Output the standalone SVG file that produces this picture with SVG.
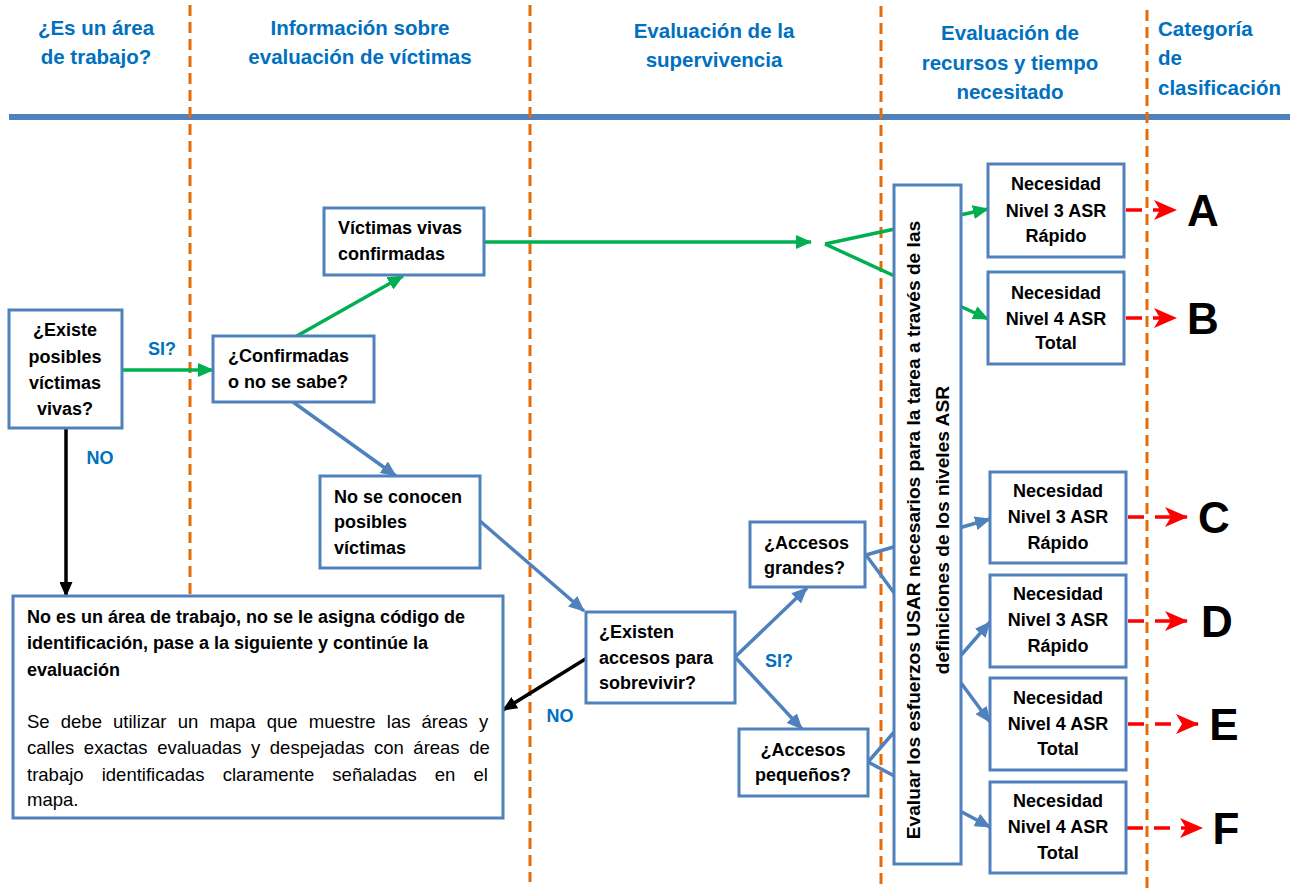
<svg xmlns="http://www.w3.org/2000/svg" width="1299" height="892" viewBox="0 0 1299 892">
<style>
.hdr{font-family:"Liberation Sans",Arial,sans-serif;font-weight:bold;font-size:20.5px;fill:#0070C0}
.lbl{font-family:"Liberation Sans",Arial,sans-serif;font-weight:bold;font-size:18px;fill:#0070C0}
.t{font-family:"Liberation Sans",Arial,sans-serif;font-weight:bold;font-size:18px;fill:#000}
.tv{font-family:"Liberation Sans",Arial,sans-serif;font-weight:bold;font-size:19.2px;fill:#000}
.tr{font-family:"Liberation Sans",Arial,sans-serif;font-size:18.5px;fill:#000}
.big{font-family:"Liberation Sans",Arial,sans-serif;font-weight:bold;font-size:44px;fill:#000}
.box{fill:#fff;stroke:#4F81BD;stroke-width:3}
.sep{stroke:#E46C0A;stroke-width:3;stroke-dasharray:11 6;fill:none}
.g{stroke:#00B050;stroke-width:3.5;fill:none}
.b{stroke:#4F81BD;stroke-width:3.5;fill:none}
.k{stroke:#000;stroke-width:3.5;fill:none}
.r{stroke:#FF0000;stroke-width:3.5;stroke-dasharray:16 11;fill:none}
</style>
<defs>
<marker id="mg" markerUnits="userSpaceOnUse" markerWidth="16" markerHeight="14" refX="15" refY="7" orient="auto"><path d="M0,0 L16,7 L0,14 z" fill="#00B050"/></marker>
<marker id="mb" markerUnits="userSpaceOnUse" markerWidth="16" markerHeight="14" refX="15" refY="7" orient="auto"><path d="M0,0 L16,7 L0,14 z" fill="#4F81BD"/></marker>
<marker id="mk" markerUnits="userSpaceOnUse" markerWidth="15" markerHeight="13" refX="14" refY="6.5" orient="auto"><path d="M0,0 L15,6.5 L0,13 z" fill="#000"/></marker>
<marker id="mr" markerUnits="userSpaceOnUse" markerWidth="23" markerHeight="20" refX="22" refY="10" orient="auto"><path d="M0,0 L23,10 L0,20 L6,10 z" fill="#FF0000"/></marker>
</defs>
<rect width="1299" height="892" fill="#fff"/>

<g id="headers">
<text class="hdr" text-anchor="middle" x="96" y="35">¿Es un área</text>
<text class="hdr" text-anchor="middle" x="96" y="64">de trabajo?</text>
<text class="hdr" text-anchor="middle" x="360" y="35">Información sobre</text>
<text class="hdr" text-anchor="middle" x="360" y="64">evaluación de víctimas</text>
<text class="hdr" text-anchor="middle" x="714" y="38">Evaluación de la</text>
<text class="hdr" text-anchor="middle" x="714" y="67">supervivencia</text>
<text class="hdr" text-anchor="middle" x="1010" y="40">Evaluación de</text>
<text class="hdr" text-anchor="middle" x="1010" y="70">recursos y tiempo</text>
<text class="hdr" text-anchor="middle" x="1010" y="99">necesitado</text>
<text class="hdr" x="1158" y="36">Categoría</text>
<text class="hdr" x="1158" y="65">de</text>
<text class="hdr" x="1158" y="95">clasificación</text>
<line x1="9" y1="117" x2="1290" y2="117" stroke="#4F81BD" stroke-width="6"/>
</g>

<g id="separators">
<line class="sep" x1="190" y1="5" x2="190" y2="595"/>
<line class="sep" x1="530" y1="5" x2="530" y2="882"/>
<line class="sep" x1="881" y1="6" x2="881" y2="890"/>
<line class="sep" x1="1147" y1="10" x2="1147" y2="890"/>
</g>

<g id="connectors">
<line class="g" x1="122" y1="370" x2="213" y2="370" marker-end="url(#mg)"/>
<line class="g" x1="295" y1="337" x2="403" y2="276" marker-end="url(#mg)"/>
<line class="g" x1="484" y1="242" x2="811" y2="242" marker-end="url(#mg)"/>
<line class="g" x1="825" y1="244" x2="988" y2="209" marker-end="url(#mg)"/>
<line class="g" x1="825" y1="244" x2="988" y2="319" marker-end="url(#mg)"/>
<line class="b" x1="293" y1="402" x2="396" y2="476" marker-end="url(#mb)"/>
<line class="b" x1="480" y1="521" x2="584" y2="611" marker-end="url(#mb)"/>
<line class="b" x1="735" y1="657" x2="807" y2="588" marker-end="url(#mb)"/>
<line class="b" x1="735" y1="657" x2="802" y2="729" marker-end="url(#mb)"/>
<line class="b" x1="866" y1="555" x2="990" y2="519" marker-end="url(#mb)"/>
<line class="b" x1="866" y1="555" x2="990" y2="722" marker-end="url(#mb)"/>
<line class="b" x1="868" y1="762" x2="990" y2="622" marker-end="url(#mb)"/>
<line class="b" x1="868" y1="762" x2="990" y2="827" marker-end="url(#mb)"/>
<line class="k" x1="66" y1="428" x2="66" y2="596" marker-end="url(#mk)"/>
<line class="k" x1="587" y1="658" x2="503" y2="710" marker-end="url(#mk)"/>
<line class="r" x1="1126" y1="210" x2="1176" y2="210" marker-end="url(#mr)"/>
<line class="r" x1="1126" y1="318" x2="1176" y2="318" marker-end="url(#mr)"/>
<line class="r" x1="1128" y1="517" x2="1187" y2="517" marker-end="url(#mr)"/>
<line class="r" x1="1128" y1="621" x2="1187" y2="621" marker-end="url(#mr)"/>
<line class="r" x1="1128" y1="724" x2="1198" y2="724" marker-end="url(#mr)"/>
<line class="r" x1="1127" y1="828" x2="1202" y2="828" marker-end="url(#mr)"/>
<text class="lbl" text-anchor="middle" x="162" y="355">SI?</text>
<text class="lbl" text-anchor="middle" x="100" y="464">NO</text>
<text class="lbl" text-anchor="middle" x="560" y="722">NO</text>
<text class="lbl" text-anchor="middle" x="779" y="667">SI?</text>
</g>

<g id="n-existe">
<rect class="box" x="9" y="310" width="113" height="118"/>
<text class="t" text-anchor="middle" x="65" y="336">¿Existe</text>
<text class="t" text-anchor="middle" x="65" y="363">posibles</text>
<text class="t" text-anchor="middle" x="65" y="389">víctimas</text>
<text class="t" text-anchor="middle" x="65" y="415">vivas?</text>
</g>

<g id="n-confirmadas">
<rect class="box" x="213" y="336" width="161" height="66"/>
<text class="t" x="228" y="362">¿Confirmadas</text>
<text class="t" x="228" y="388">o no se sabe?</text>
</g>

<g id="n-vivas">
<rect class="box" x="324" y="208" width="160" height="67"/>
<text class="t" x="338" y="234">Víctimas vivas</text>
<text class="t" x="338" y="260">confirmadas</text>
</g>

<g id="n-noseconocen">
<rect class="box" x="320" y="476" width="160" height="92"/>
<text class="t" x="334" y="503">No se conocen</text>
<text class="t" x="334" y="528">posibles</text>
<text class="t" x="334" y="554">víctimas</text>
</g>

<g id="n-noarea">
<rect class="box" x="13" y="596" width="490" height="222"/>
<text class="t" x="27" y="623">No es un área de trabajo, no se le asigna código de</text>
<text class="t" x="27" y="649">identificación, pase a la siguiente y continúe la</text>
<text class="t" x="27" y="676">evaluación</text>
<text class="tr" x="27" y="728" word-spacing="6">Se debe utilizar un mapa que muestre las áreas y</text>
<text class="tr" x="27" y="754" word-spacing="4.4">calles exactas evaluadas y despejadas con áreas de</text>
<text class="tr" x="27" y="781" word-spacing="13">trabajo identificadas claramente señaladas en el</text>
<text class="tr" x="27" y="806">mapa.</text>
</g>

<g id="n-existen">
<rect class="box" x="586" y="612" width="149" height="91"/>
<text class="t" x="599" y="638">¿Existen</text>
<text class="t" x="599" y="664">accesos para</text>
<text class="t" x="599" y="689">sobrevivir?</text>
</g>

<g id="n-grandes">
<rect class="box" x="750" y="522" width="115" height="65"/>
<text class="t" x="764" y="549">¿Accesos</text>
<text class="t" x="764" y="574">grandes?</text>
</g>

<g id="n-pequenos">
<rect class="box" x="739" y="729" width="129" height="67"/>
<text class="t" text-anchor="middle" x="803" y="756">¿Accesos</text>
<text class="t" text-anchor="middle" x="803" y="781">pequeños?</text>
</g>

<g id="n-evaluar">
<rect class="box" x="894" y="185" width="67" height="679"/>
<text class="tv" text-anchor="middle" transform="translate(920,530) rotate(-90)">Evaluar los esfuerzos USAR necesarios para la tarea a través de las</text>
<text class="tv" text-anchor="middle" transform="translate(949,530) rotate(-90)">definiciones de los niveles ASR</text>
</g>

<g id="n-a">
<rect class="box" x="988" y="164" width="136" height="93"/>
<text class="t" text-anchor="middle" x="1056" y="190">Necesidad</text>
<text class="t" text-anchor="middle" x="1056" y="217">Nivel 3 ASR</text>
<text class="t" text-anchor="middle" x="1056" y="242">Rápido</text>
</g>
<g id="n-b">
<rect class="box" x="988" y="272" width="136" height="92"/>
<text class="t" text-anchor="middle" x="1056" y="299">Necesidad</text>
<text class="t" text-anchor="middle" x="1056" y="325">Nivel 4 ASR</text>
<text class="t" text-anchor="middle" x="1056" y="349">Total</text>
</g>
<g id="n-c">
<rect class="box" x="990" y="472" width="136" height="91"/>
<text class="t" text-anchor="middle" x="1058" y="497">Necesidad</text>
<text class="t" text-anchor="middle" x="1058" y="523">Nivel 3 ASR</text>
<text class="t" text-anchor="middle" x="1058" y="549">Rápido</text>
</g>
<g id="n-d">
<rect class="box" x="990" y="575" width="136" height="92"/>
<text class="t" text-anchor="middle" x="1058" y="600">Necesidad</text>
<text class="t" text-anchor="middle" x="1058" y="626">Nivel 3 ASR</text>
<text class="t" text-anchor="middle" x="1058" y="652">Rápido</text>
</g>
<g id="n-e">
<rect class="box" x="990" y="678" width="136" height="92"/>
<text class="t" text-anchor="middle" x="1058" y="704">Necesidad</text>
<text class="t" text-anchor="middle" x="1058" y="730">Nivel 4 ASR</text>
<text class="t" text-anchor="middle" x="1058" y="755">Total</text>
</g>
<g id="n-f">
<rect class="box" x="990" y="782" width="136" height="91"/>
<text class="t" text-anchor="middle" x="1058" y="807">Necesidad</text>
<text class="t" text-anchor="middle" x="1058" y="833">Nivel 4 ASR</text>
<text class="t" text-anchor="middle" x="1058" y="859">Total</text>
</g>

<g id="categories">
<text class="big" text-anchor="middle" x="1203" y="226">A</text>
<text class="big" text-anchor="middle" x="1203" y="334">B</text>
<text class="big" text-anchor="middle" x="1214" y="533">C</text>
<text class="big" text-anchor="middle" x="1217" y="637">D</text>
<text class="big" text-anchor="middle" x="1224" y="740">E</text>
<text class="big" text-anchor="middle" x="1226" y="844">F</text>
</g>
</svg>
